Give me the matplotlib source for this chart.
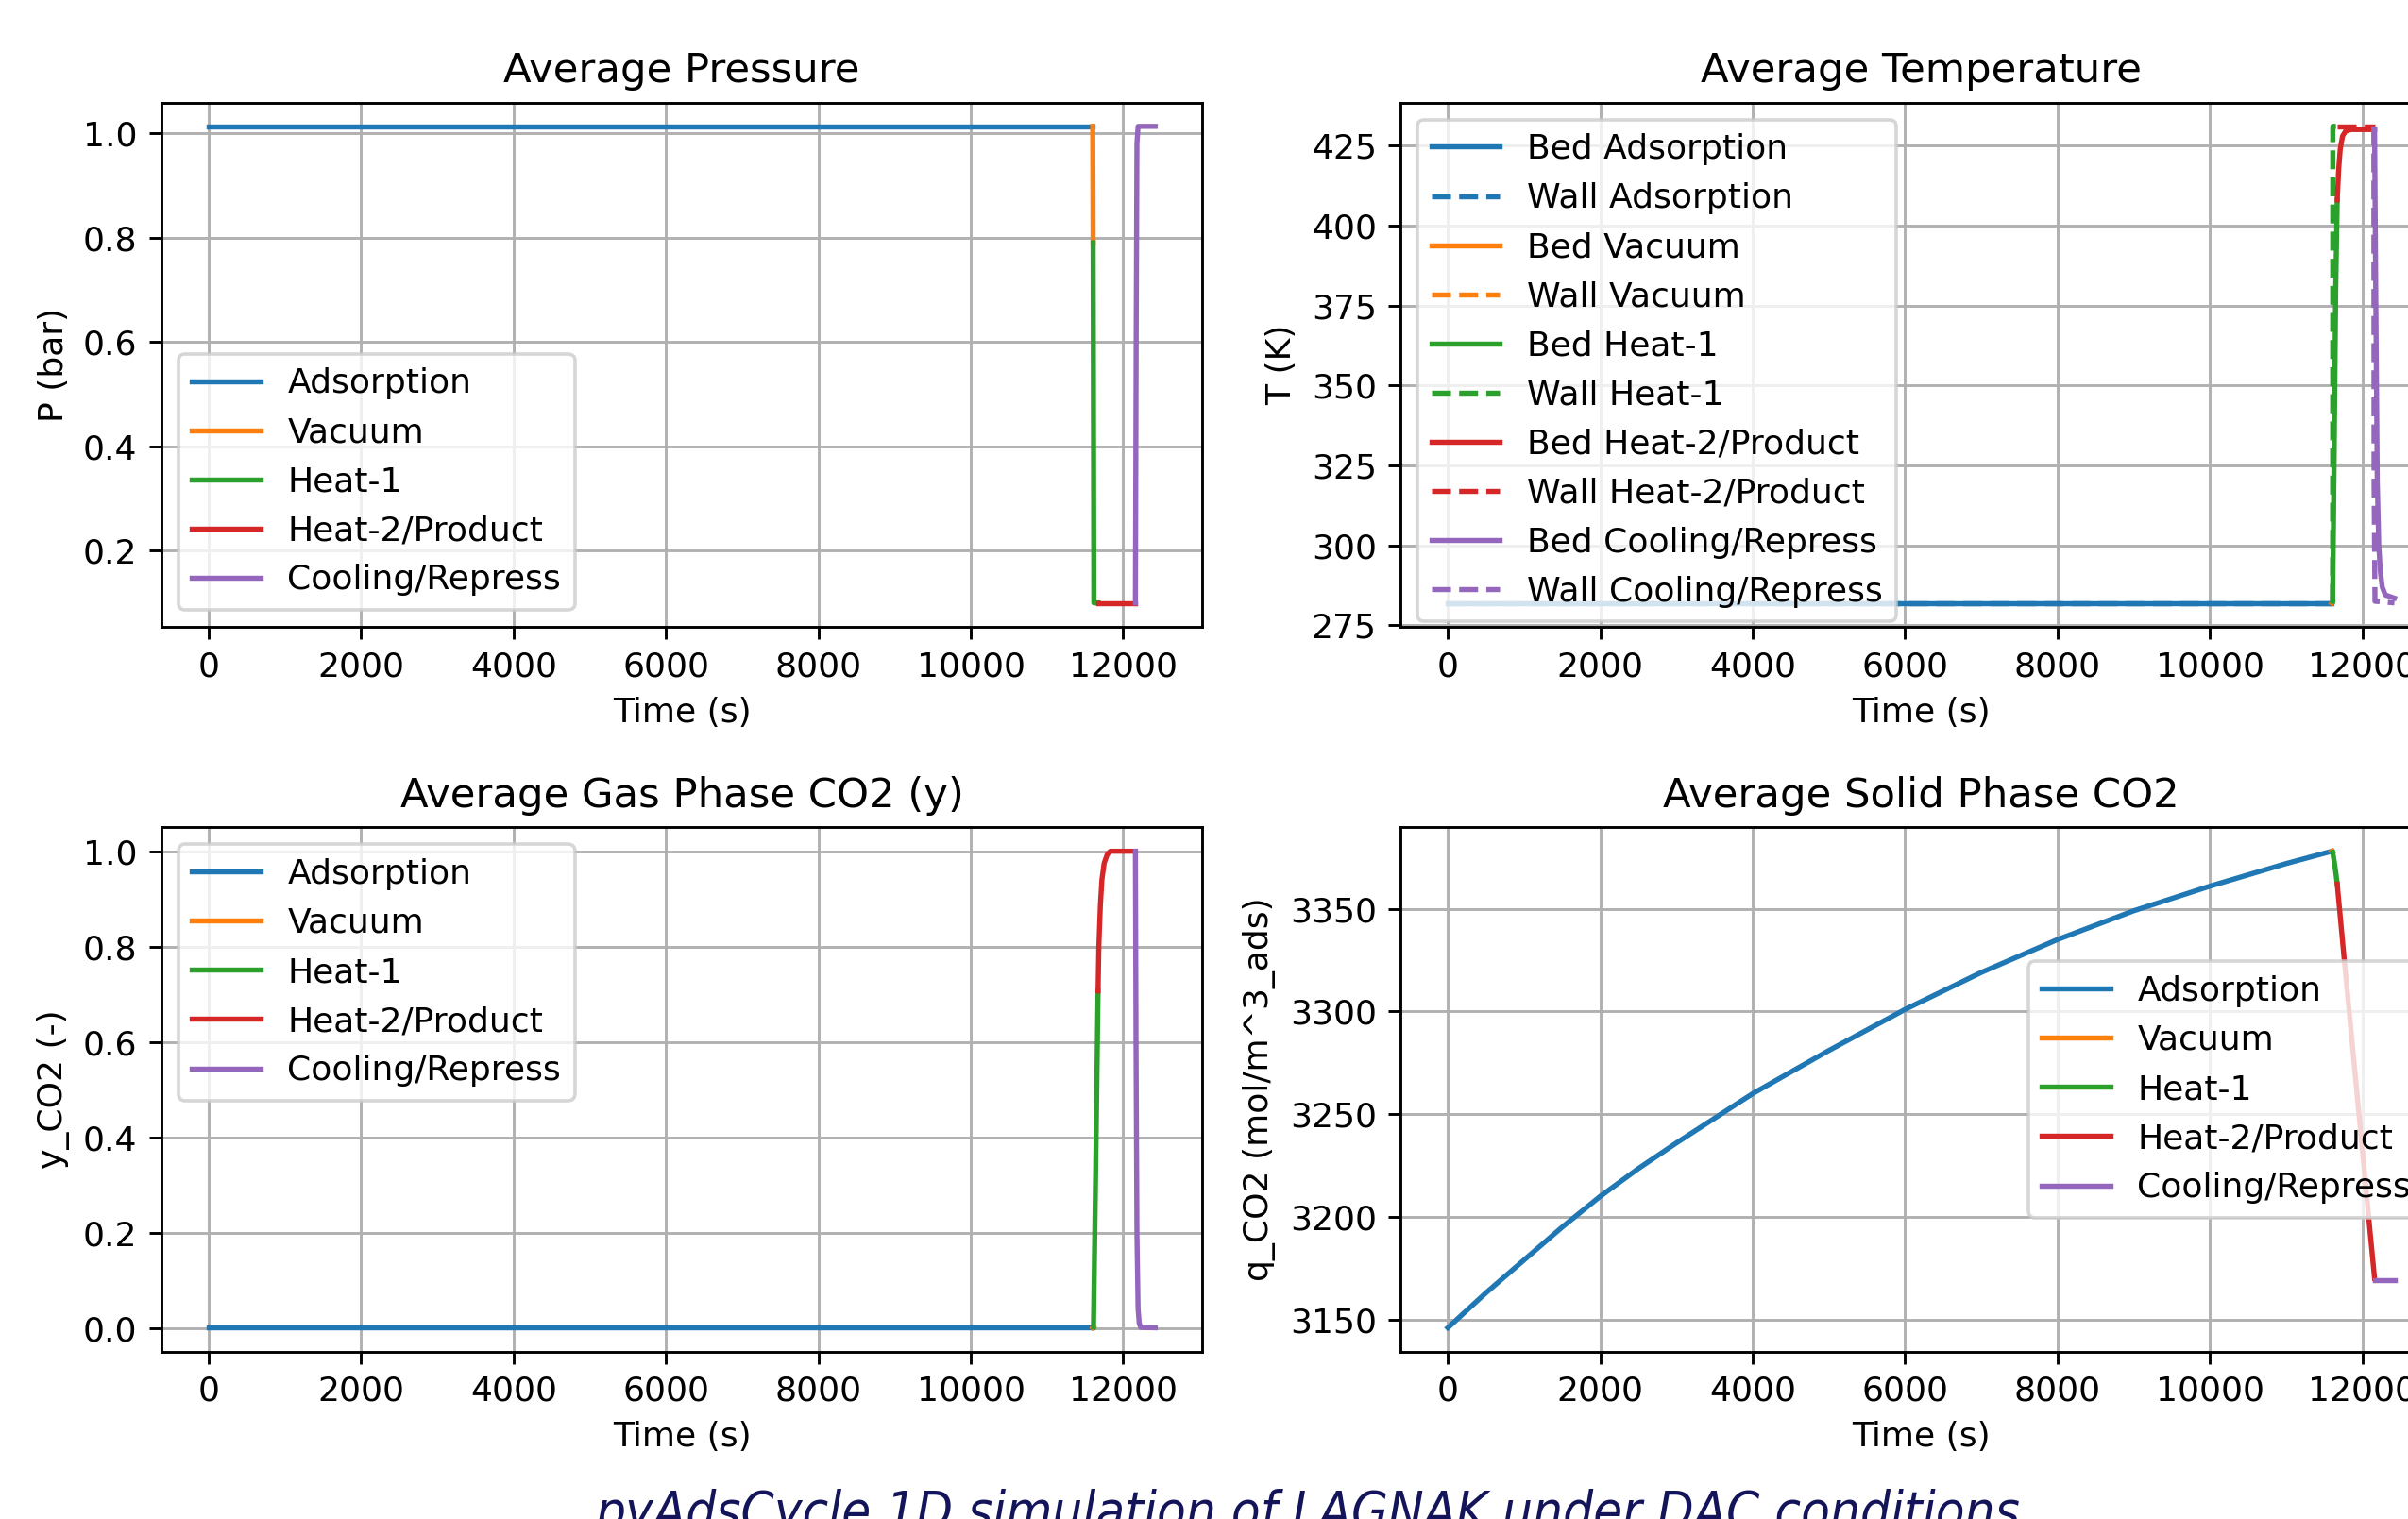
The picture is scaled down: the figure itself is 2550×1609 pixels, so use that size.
import matplotlib
matplotlib.use("Agg")
import matplotlib.pyplot as plt
from matplotlib import font_manager

# phase names and colours (default tab10 cycle)
phases = ["Adsorption", "Vacuum", "Heat-1", "Heat-2/Product", "Cooling/Repress"]
colors = ["#1f77b4", "#ff7f0e", "#2ca02c", "#d62728", "#9467bd"]

# average pressure (bar)
P_t = [
    [0, 11600],
    [11600, 11605],
    [11605, 11615, 11670],
    [11670, 12160],
    [12160, 12170, 12180, 12195, 12420],
]
P_val = [
    [1.013, 1.013],
    [1.013, 0.79],
    [0.79, 0.10, 0.10],
    [0.10, 0.10],
    [0.10, 0.60, 0.98, 1.013, 1.013],
]

# average bed temperature (K)
Tb_t = [
    [0, 11600],
    [11600, 11610],
    [11610, 11630, 11650, 11670],
    [11670, 11690, 11710, 11740, 11780, 11850, 12160],
    [12160, 12175, 12195, 12215, 12235, 12260, 12300, 12420],
]
Tb_val = [
    [282.0, 282.0],
    [282.0, 282.5],
    [282.5, 330.0, 380.0, 408.0],
    [408.0, 418.0, 424.0, 428.0, 429.5, 430.0, 430.0],
    [430.0, 380.0, 320.0, 300.0, 292.0, 287.0, 284.5, 283.5],
]

# average wall temperature (K)
Tw_t = [
    [0, 11600],
    [11600, 11610],
    [11610, 11612, 11670],
    [11670, 12160],
    [12150, 12153, 12165, 12420],
]
Tw_val = [
    [282.0, 282.0],
    [282.0, 282.0],
    [282.0, 431.0, 431.0],
    [431.0, 431.0],
    [431.0, 320.0, 282.5, 282.0],
]

# average gas phase CO2 mole fraction (-)
y_t = [
    [0, 11600],
    [11600, 11610],
    [11610, 11640, 11670],
    [11670, 11680, 11700, 11720, 11750, 11790, 11830, 12160],
    [12160, 12168, 12180, 12195, 12210, 12230, 12420],
]
y_val = [
    [0.0004, 0.0004],
    [0.0004, 0.002],
    [0.002, 0.35, 0.707],
    [0.707, 0.80, 0.886, 0.94, 0.975, 0.993, 1.0, 1.0],
    [1.0, 0.60, 0.20, 0.04, 0.01, 0.001, 0.0004],
]

# average solid phase CO2 loading (mol/m^3_ads)
q_t = [
    [0, 500, 1000, 1500, 2000, 2500, 3000, 3500, 4000, 4500, 5000, 5500, 6000,
     6500, 7000, 7500, 8000, 8500, 9000, 9500, 10000, 10500, 11000, 11300, 11600],
    [11600, 11610],
    [11610, 11630, 11650, 11670],
    [11670, 11760, 11850, 11950, 12050, 12100, 12160],
    [12160, 12420],
]
q_val = [
    [3146, 3163, 3179, 3195, 3210, 3223.5, 3236, 3248, 3260, 3270.5, 3281, 3291, 3301,
     3310, 3319, 3327, 3335, 3342, 3349, 3355, 3361, 3366.5, 3372, 3375, 3378],
    [3378, 3377.5],
    [3377.5, 3373, 3368, 3362],
    [3362, 3326, 3291, 3252, 3213, 3193, 3170],
    [3169, 3169],
]

caption = "pyAdsCycle 1D simulation of LAGNAK under DAC conditions"


def phase_plot(ax, ts, vals, title, ylabel, loc):
    for name, c, t, v in zip(phases, colors, ts, vals):
        ax.plot(t, v, color=c, label=name)
    ax.set_title(title)
    ax.set_xlabel("Time (s)")
    ax.set_ylabel(ylabel)
    ax.grid(True)
    ax.legend(loc=loc)


fig = plt.figure(figsize=(2550 / 260, 1609 / 260), dpi=260)
w, h = 0.4324, 0.3451
ax_p = fig.add_axes([0.0670, 0.5874, w, h])
ax_t = fig.add_axes([0.5816, 0.5874, w, h])
ax_y = fig.add_axes([0.0670, 0.1102, w, h])
ax_q = fig.add_axes([0.5816, 0.1102, w, h])

phase_plot(ax_p, P_t, P_val, "Average Pressure", "P (bar)", "lower left")
phase_plot(ax_y, y_t, y_val, "Average Gas Phase CO2 (y)", "y_CO2 (-)", "upper left")
phase_plot(ax_q, q_t, q_val, "Average Solid Phase CO2", "q_CO2 (mol/m^3_ads)", "center right")

for name, c, t, v, tw, vw in zip(phases, colors, Tb_t, Tb_val, Tw_t, Tw_val):
    ax_t.plot(t, v, color=c, label="Bed " + name)
    ax_t.plot(tw, vw, color=c, ls="--", label="Wall " + name)
ax_t.set_title("Average Temperature")
ax_t.set_xlabel("Time (s)")
ax_t.set_ylabel("T (K)")
ax_t.grid(True)
ax_t.legend(loc="upper left")

# caption in a narrow italic face if one is installed
fonts = font_manager.fontManager.ttflist
names = {f.name for f in fonts}
has_cond = any(f.name == "DejaVu Sans" and "ondensed" in str(f.stretch)
               and f.style != "normal" for f in fonts)
cap_kw = dict(ha="center", va="baseline", style="italic", color="#14145a")
if "Liberation Sans Narrow" in names:
    fig.text(0.543, -0.006, caption, family="Liberation Sans Narrow", fontsize=17, **cap_kw)
elif has_cond:
    fig.text(0.543, -0.006, caption, family="DejaVu Sans", stretch="condensed",
             fontsize=15.5, **cap_kw)
else:
    fig.text(0.543, -0.006, caption, fontsize=14, **cap_kw)

fig.savefig("out.png", dpi=260)
